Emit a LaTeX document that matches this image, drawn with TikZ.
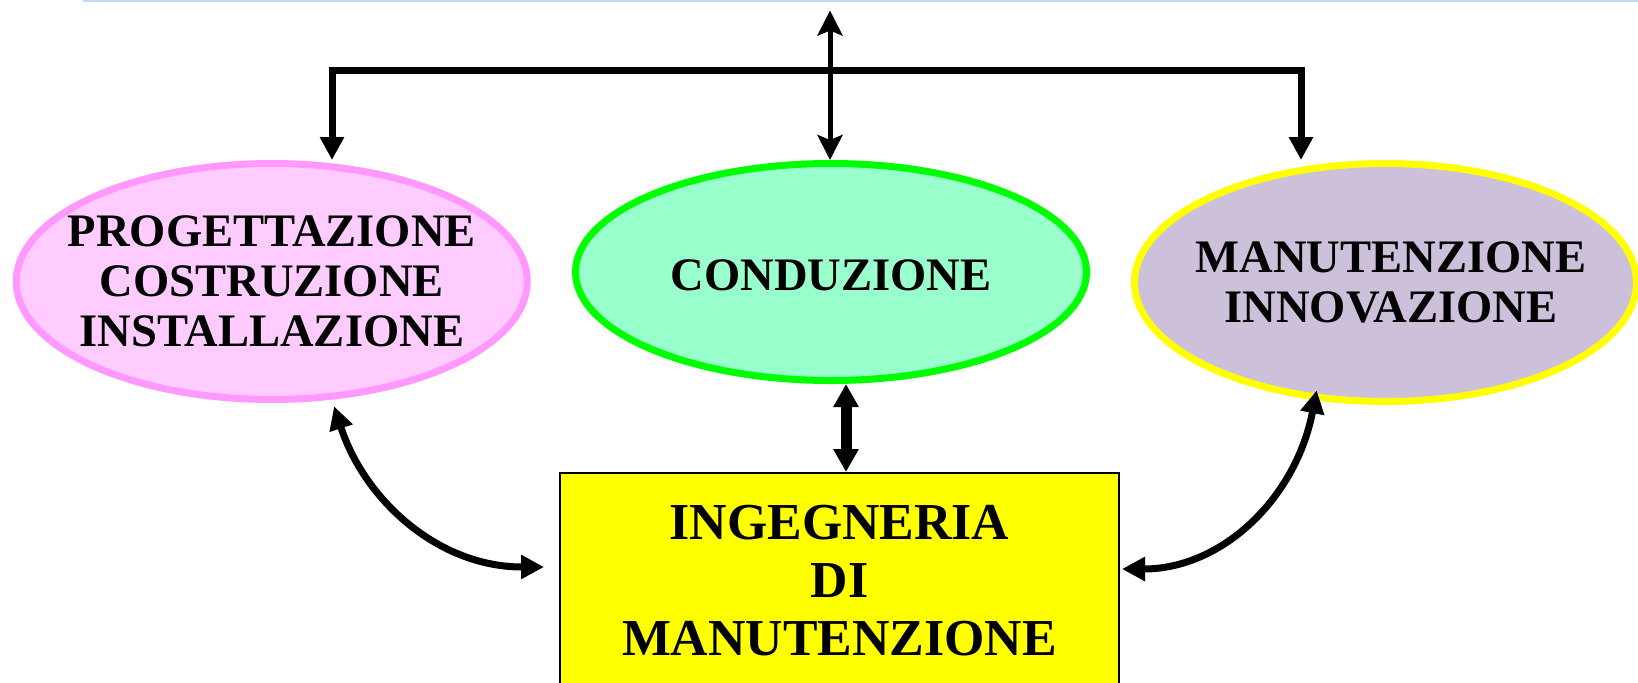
\documentclass[tikz,border=0pt]{standalone}
\usepackage{fontspec}
\setmainfont{Liberation Serif}
\usepackage{xcolor}
\usetikzlibrary{arrows.meta, shapes.geometric}

\definecolor{pinkfill}{HTML}{FFCCFF}
\definecolor{pinkline}{HTML}{FF99FF}
\definecolor{greenfill}{HTML}{99FFCC}
\definecolor{greenline}{HTML}{00FF00}
\definecolor{lilacfill}{HTML}{CCC0DA}
\definecolor{pureyellow}{HTML}{FFFF00}
\definecolor{slideblue}{HTML}{C6D9F1}

\tikzset{
	phase/.style = {ellipse, line width = 0.14cm, minimum width = 10.22cm, minimum height = 4.72cm, inner sep = 0pt},
	phase text/.style = {align = center, font = \bfseries\fontsize{26.5}{28.5}\selectfont},
	link/.style = {line width = 0.14cm, {Triangle[length = 0.46cm, width = 0.46cm]}-{Triangle[length = 0.46cm, width = 0.46cm]}},
	thin link/.style = {line width = 0.1cm, {Stealth[length = 0.5cm, width = 0.5cm, inset = 0.1cm]}-{Stealth[length = 0.5cm, width = 0.5cm, inset = 0.1cm]}},
	fat link/.style = {line width = 0.22cm, {Triangle[length = 0.46cm, width = 0.48cm]}-{Triangle[length = 0.46cm, width = 0.48cm]}}
}

\begin{document}
\begin{tikzpicture}
		\useasboundingbox (0, 0) rectangle (32.76, -13.64);
		\clip (0, 0) rectangle (32.76, -13.64);
		
		% slide rule on top
		\draw [slideblue, line width = 0.04cm] (1.66, -0.02) -- (32.76, -0.02);
		
		\node [phase, fill = pinkfill, draw = pinkline] (prog) at (5.435, -5.63) {};
		\node [phase, fill = greenfill, draw = greenline, minimum height = 4.34cm] (cond) at (16.62, -5.44) {};
		\node [phase, fill = lilacfill, draw = pureyellow, minimum width = 10.04cm, minimum height = 4.76cm] (inno) at (27.71, -5.65) {};
		
		\node [phase text] at (prog) {PROGETTAZIONE\\COSTRUZIONE\\INSTALLAZIONE};
		\node [phase text] at ([yshift = -0.06cm]cond) {CONDUZIONE};
		\node [phase text] at ([xshift = 0.11cm]inno) {MANUTENZIONE\\INNOVAZIONE};
		
		\node [draw, line width = 0.04cm, fill = pureyellow, minimum width = 11.18cm, minimum height = 4.32cm, align = center, font = \bfseries\fontsize{29.5}{33}\selectfont] (ing) at (16.79, -11.62) {INGEGNERIA\\DI\\MANUTENZIONE};
		
		\coordinate (bar left) at (6.64, -1.40);
		\coordinate (bar right) at (26.02, -1.40);
		\coordinate (top) at (16.6, -0.21);
		
		\draw [link] (bar left |- prog.north) -- (bar left) -- (bar right) -- (bar right |- inno.north);
		\draw [thin link] (top) -- (top |- cond.north);
		\draw [fat link] ([xshift = 0.3cm]cond.south) -- ([xshift = 0.3cm]cond.south |- ing.north);
		
		\draw [link, shorten <= 0.14cm] (prog.-63) to [out = -72, in = 180] ([xshift = -0.3cm, yshift = 0.28cm]ing.west);
		\draw [link, shorten <= -0.2cm] (inno.-121) to [out = -101, in = 0] ([xshift = 0.04cm, yshift = 0.24cm]ing.east);
	\end{tikzpicture}
\end{document}
